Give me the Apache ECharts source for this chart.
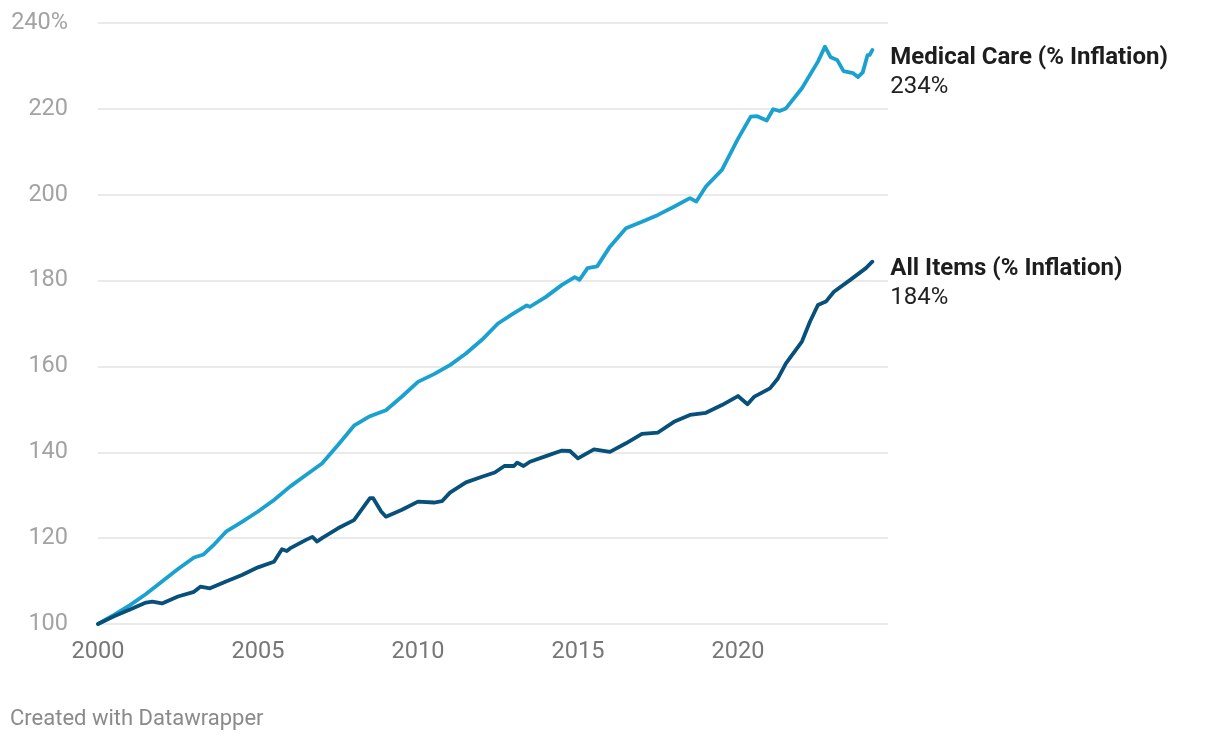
<!DOCTYPE html>
<html>
<head>
<meta charset="utf-8">
<script src="https://cdn.jsdelivr.net/npm/echarts@6/dist/echarts.min.js"></script>
<style>
html,body{margin:0;padding:0;background:#fff;}
#chart{width:1220px;height:740px;}
</style>
</head>
<body>
<div id="chart"></div>
<script>
// Year (decimal) and index values (Jan 2000 = 100)
const medDates = [2000, 2000.5, 2001, 2001.5, 2002, 2002.5, 2003, 2003.3, 2003.6, 2004, 2004.5, 2005, 2005.5, 2006, 2006.5, 2007, 2007.5, 2008, 2008.5, 2009, 2009.5, 2010, 2010.5, 2011, 2011.5, 2012, 2012.5, 2013, 2013.4, 2013.5, 2014, 2014.5, 2014.9, 2015.05, 2015.3, 2015.6, 2016, 2016.5, 2017, 2017.5, 2018, 2018.5, 2018.7, 2019, 2019.5, 2020, 2020.4, 2020.6, 2020.9, 2021.1, 2021.3, 2021.5, 2022, 2022.5, 2022.72, 2022.9, 2023.1, 2023.3, 2023.6, 2023.75, 2023.9, 2024.05, 2024.12, 2024.2];
const medValues = [100, 102.1, 104.4, 107.0, 109.9, 112.8, 115.5, 116.2, 118.3, 121.5, 123.8, 126.2, 128.9, 132.0, 134.7, 137.4, 141.7, 146.2, 148.4, 149.8, 153.0, 156.4, 158.2, 160.3, 163.0, 166.2, 170.0, 172.4, 174.2, 173.9, 176.2, 179.0, 180.8, 180.2, 182.9, 183.3, 187.9, 192.2, 193.7, 195.3, 197.2, 199.2, 198.4, 201.9, 205.8, 213.0, 218.2, 218.3, 217.3, 219.9, 219.5, 220.1, 224.8, 231.0, 234.5, 232.0, 231.4, 228.8, 228.3, 227.4, 228.5, 232.5, 232.6, 233.7];

const allDates = [2000, 2000.5, 2001, 2001.5, 2001.7, 2002, 2002.5, 2003, 2003.2, 2003.5, 2004, 2004.5, 2005, 2005.5, 2005.75, 2005.9, 2006, 2006.5, 2006.7, 2006.85, 2007, 2007.5, 2008, 2008.5, 2008.6, 2008.85, 2009, 2009.5, 2010, 2010.5, 2010.75, 2011, 2011.5, 2012, 2012.4, 2012.7, 2013, 2013.1, 2013.3, 2013.5, 2014, 2014.5, 2014.75, 2015, 2015.5, 2016, 2016.5, 2017, 2017.5, 2018, 2018.5, 2019, 2019.5, 2020, 2020.3, 2020.5, 2021, 2021.25, 2021.5, 2022, 2022.25, 2022.5, 2022.75, 2023, 2023.5, 2024, 2024.2];
const allValues = [100, 101.8, 103.4, 105.0, 105.2, 104.8, 106.4, 107.5, 108.7, 108.3, 109.9, 111.4, 113.2, 114.5, 117.4, 117.0, 117.6, 119.6, 120.3, 119.2, 120.0, 122.3, 124.2, 129.3, 129.3, 126.2, 125.0, 126.6, 128.5, 128.3, 128.6, 130.6, 133.0, 134.3, 135.3, 136.8, 136.8, 137.6, 136.8, 137.8, 139.1, 140.4, 140.3, 138.6, 140.7, 140.1, 142.1, 144.3, 144.6, 147.1, 148.7, 149.2, 151.0, 153.1, 151.2, 152.9, 154.9, 157.2, 160.7, 165.8, 170.4, 174.3, 175.1, 177.4, 180.1, 182.9, 184.4];

const seriesNames = ['Medical Care (% Inflation)', 'All Items (% Inflation)'];
const endValues = ['234%', '184%'];
const yTicks = [100, 120, 140, 160, 180, 200, 220, 240];

const zip = (xs, ys) => xs.map((x, i) => [x, ys[i]]);

const chart = echarts.init(document.getElementById('chart'));
const fontFamily = 'Roboto, "Noto Sans", sans-serif';

function endLabel(idx) {
  return {
    show: true,
    distance: 0,
    offset: [18, 22],
    formatter: () => '{b|' + seriesNames[idx] + '}\n{v|' + endValues[idx] + '}',
    rich: {
      b: {fontFamily, fontSize: 24, fontWeight: 'bold', color: '#1d1d1d', lineHeight: 29},
      v: {fontFamily, fontSize: 24, color: '#222', lineHeight: 29}
    }
  };
}

chart.setOption({
  animation: false,
  backgroundColor: '#fff',
  title: {
    text: 'Created with Datawrapper',
    left: 5, top: 703,
    textStyle: {fontFamily, fontSize: 22, fontWeight: 'normal', color: '#8a8a8a'}
  },
  grid: {left: 98, right: 332, top: 23, bottom: 116, containLabel: false},
  xAxis: {
    type: 'value',
    min: 2000, max: 2024.69, interval: 5,
    axisLine: {show: false},
    axisTick: {show: false},
    splitLine: {show: false},
    axisLabel: {
      fontFamily, fontSize: 23.5, color: '#777', margin: 16,
      formatter: v => (v % 5 === 0 ? String(v) : '')
    }
  },
  yAxis: {
    type: 'value',
    min: yTicks[0], max: yTicks[yTicks.length - 1], interval: 20,
    axisLine: {show: false},
    axisTick: {show: false},
    splitLine: {lineStyle: {color: '#e3e3e3', width: 1.5}},
    axisLabel: {
      fontFamily, fontSize: 23.5, color: '#a3a3a3', margin: 30,
      formatter: v => (v === 240 ? '240%' : String(v))
    }
  },
  series: [
    {
      name: seriesNames[0], type: 'line', showSymbol: false,
      data: zip(medDates, medValues),
      lineStyle: {color: '#1aa1d0', width: 3.8, join: 'round', cap: 'round'},
      itemStyle: {color: '#1aa1d0'},
      endLabel: endLabel(0)
    },
    {
      name: seriesNames[1], type: 'line', showSymbol: false,
      data: zip(allDates, allValues),
      lineStyle: {color: '#07507a', width: 3.8, join: 'round', cap: 'round'},
      itemStyle: {color: '#07507a'},
      endLabel: endLabel(1)
    }
  ]
});
</script>
</body>
</html>
